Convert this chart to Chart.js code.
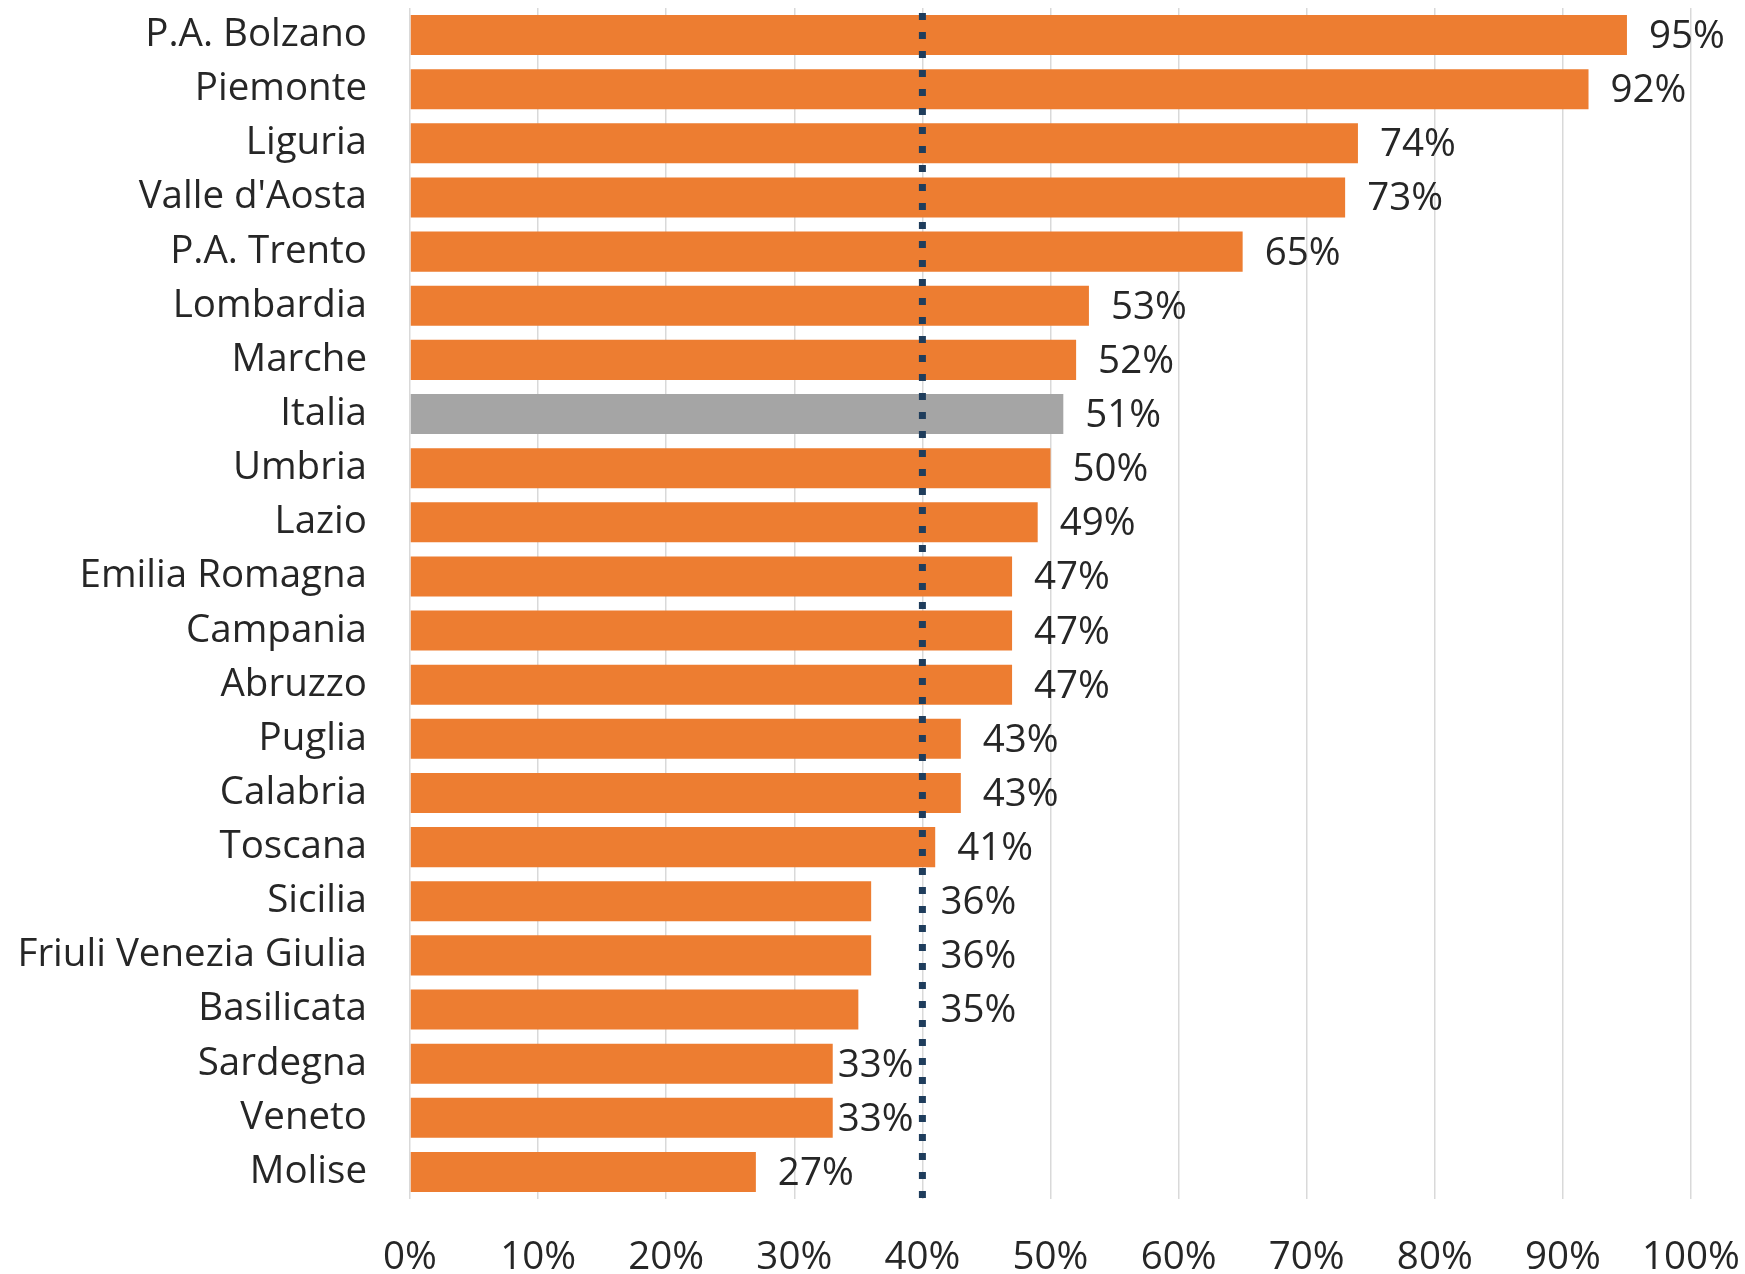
<!DOCTYPE html>
<html>
<head>
<meta charset="utf-8">
<title>Regioni</title>
<script src="https://cdn.jsdelivr.net/npm/chart.js@4.4.0/dist/chart.umd.min.js"></script>
<style>
  html, body { margin: 0; padding: 0; background: #ffffff; }
  canvas { display: block; }
</style>
</head>
<body>
<canvas id="regionChart" width="1745" height="1274"></canvas>
<script>
// Regions, top to bottom as in the chart
var regions = ["P.A. Bolzano", "Piemonte", "Liguria", "Valle d'Aosta", "P.A. Trento",
    "Lombardia", "Marche", "Italia", "Umbria", "Lazio", "Emilia Romagna", "Campania",
    "Abruzzo", "Puglia", "Calabria", "Toscana", "Sicilia", "Friuli Venezia Giulia",
    "Basilicata", "Sardegna", "Veneto", "Molise"];

// Value for each region, in percent
var shares = [95, 92, 74, 73, 65, 53, 52, 51, 50, 49, 47, 47, 47, 43, 43, 41, 36, 36, 35, 33, 33, 27];

// The national figure is drawn in gray
var highlightRegion = "Italia";

// Reference value marked by the dotted line
var thresholdValue = 40;

// Tick values on the x axis
var xTicks = [0, 10, 20, 30, 40, 50, 60, 70, 80, 90, 100];

var colors = {
    bar: '#ED7D31',
    highlight: '#A5A5A5',
    line: '#1F3D5C',
    grid: '#D9D9D9',
    text: '#262626'
};
var fontFamily = "'Open Sans', sans-serif";
var fontSize = 38.5;

// Dotted vertical line at the threshold
var thresholdLine = {
    id: 'thresholdLine',
    afterDatasetsDraw: function(chart) {
        var ctx = chart.ctx;
        var x = chart.scales.x.getPixelForValue(thresholdValue);
        ctx.save();
        ctx.strokeStyle = colors.line;
        ctx.lineWidth = 7;
        ctx.setLineDash([7, 12]);
        ctx.beginPath();
        ctx.moveTo(x, chart.chartArea.top + 5);
        ctx.lineTo(x, chart.chartArea.bottom);
        ctx.stroke();
        ctx.restore();
    }
};

// Percent labels at the end of each bar
var valueLabels = {
    id: 'valueLabels',
    afterDraw: function(chart) {
        var ctx = chart.ctx;
        var lineX = chart.scales.x.getPixelForValue(thresholdValue);
        var bars = chart.getDatasetMeta(0).data;
        ctx.save();
        ctx.font = fontSize + 'px ' + fontFamily;
        ctx.fillStyle = colors.text;
        ctx.textBaseline = 'middle';
        ctx.textAlign = 'left';
        bars.forEach(function(bar, i) {
            var text = shares[i] + '%';
            var w = ctx.measureText(text).width;
            var x = bar.x + 22;
            // labels that would sit on the dotted line are moved off it
            if (x < lineX + 6 && x + w > lineX - 6) {
                x = bar.x + 5;
                if (x + w > lineX - 6) {
                    x = lineX + 18;
                }
            }
            ctx.fillText(text, x, bar.y + 2);
        });
        ctx.restore();
    }
};

var ctx = document.getElementById('regionChart').getContext('2d');
var regionChart = new Chart(ctx, {
    type: 'bar',
    data: {
        labels: regions,
        datasets: [{
            data: shares,
            backgroundColor: regions.map(function(r) {
                return r === highlightRegion ? colors.highlight : colors.bar;
            }),
            barPercentage: 0.74,
            categoryPercentage: 1.0
        }]
    },
    options: {
        indexAxis: 'y',
        responsive: false,
        animation: false,
        devicePixelRatio: 1,
        layout: {
            padding: { top: 8, right: 54, bottom: 0, left: 0 }
        },
        plugins: {
            legend: { display: false },
            tooltip: { enabled: false }
        },
        scales: {
            x: {
                min: 0,
                max: 100,
                afterBuildTicks: function(scale) {
                    scale.ticks = xTicks.map(function(v) { return { value: v }; });
                },
                afterFit: function(scale) {
                    // fixed axis band, label overflow handled by layout padding
                    scale.height = 75;
                    scale.paddingLeft = 0;
                    scale.paddingRight = 0;
                },
                grid: {
                    color: colors.grid,
                    lineWidth: 1.5,
                    drawTicks: false
                },
                border: { display: false },
                ticks: {
                    padding: 36,
                    color: colors.text,
                    font: { family: fontFamily, size: fontSize },
                    maxRotation: 0,
                    callback: function(value) { return value + '%'; }
                }
            },
            y: {
                afterFit: function(scale) {
                    scale.width = 410;
                    scale.paddingTop = 0;
                    scale.paddingBottom = 0;
                },
                grid: { display: false, drawTicks: false },
                border: { display: false },
                ticks: {
                    padding: 43,
                    color: colors.text,
                    font: { family: fontFamily, size: fontSize }
                }
            }
        }
    },
    plugins: [thresholdLine, valueLabels]
});
</script>
</body>
</html>
